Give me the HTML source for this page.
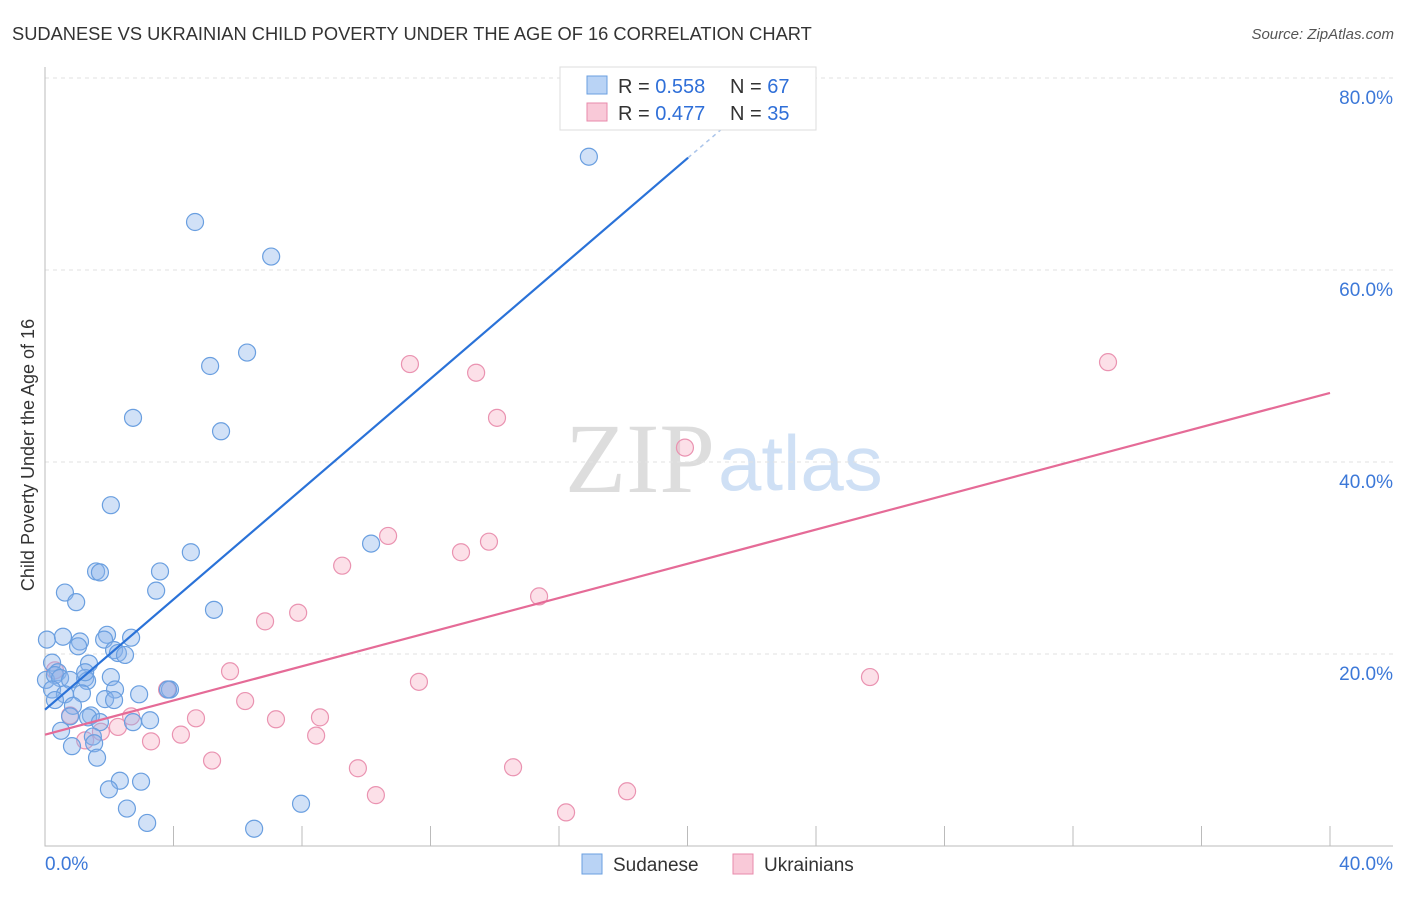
<!DOCTYPE html>
<html><head><meta charset="utf-8"><style>
body{margin:0;background:#fff;font-family:"Liberation Sans",sans-serif}
svg text{font-family:"Liberation Sans",sans-serif}
</style></head><body>
<svg id="c" width="1406" height="892">
<text x="12" y="40" font-size="18.3" fill="#333">SUDANESE VS UKRAINIAN CHILD POVERTY UNDER THE AGE OF 16 CORRELATION CHART</text>
<text x="1394" y="39" font-size="15" fill="#555" text-anchor="end" font-style="italic">Source: ZipAtlas.com</text>
<text x="715" y="492" font-size="100" fill="#ddd" text-anchor="end" style="font-family:'Liberation Serif',serif">ZIP</text>
<text x="718" y="490" font-size="78" fill="#cfe0f5">atlas</text>
<text transform="translate(34,455) rotate(-90)" font-size="18" fill="#333" text-anchor="middle">Child Poverty Under the Age of 16</text>
<g id="grid"></g><g id="marks"></g>
<g>
<rect x="560" y="67" width="256" height="63" fill="#fff" stroke="#ddd"/>
<rect x="587" y="76" width="20" height="18" fill="#b9d3f5" stroke="#6a9fe0"/>
<rect x="587" y="103" width="20" height="18" fill="#f9c9d8" stroke="#e88aab"/>
<text x="618" y="93" font-size="20" fill="#333">R = <tspan fill="#2f6fd8">0.558</tspan></text>
<text x="730" y="93" font-size="20" fill="#333">N = <tspan fill="#2f6fd8">67</tspan></text>
<text x="618" y="120" font-size="20" fill="#333">R = <tspan fill="#2f6fd8">0.477</tspan></text>
<text x="730" y="120" font-size="20" fill="#333">N = <tspan fill="#2f6fd8">35</tspan></text>
</g>
<g>
<rect x="582" y="854" width="20" height="20" fill="#b9d3f5" stroke="#6a9fe0"/>
<text x="613" y="871" font-size="19" fill="#333">Sudanese</text>
<rect x="733" y="854" width="20" height="20" fill="#f9c9d8" stroke="#e88aab"/>
<text x="764" y="871" font-size="19" fill="#333">Ukrainians</text>
</g>
</svg>
<script>
const blueX=[16.93,4.67,7.04,6.29,5.14,2.74,5.48,2.05,10.15,4.54,1.59,1.71,3.58,0.62,3.46,0.97,5.26,0.06,0.56,1.09,1.03,1.93,1.84,2.68,2.15,2.27,2.49,0.22,1.37,0.40,0.03,0.31,0.47,0.78,1.25,1.31,2.05,0.22,0.62,1.15,2.18,2.93,3.89,0.87,1.87,1.43,1.34,1.71,2.74,3.27,0.50,1.49,1.53,0.84,1.62,2.33,2.99,1.99,2.55,3.18,6.51,7.97,3.83,1.25,0.31,0.78,2.15];
const blueY=[71.8,65.0,61.4,51.4,50.0,44.6,43.2,35.5,31.5,30.6,28.6,28.5,28.6,26.4,26.6,25.4,24.6,21.5,21.8,21.3,20.8,22.0,21.5,21.7,20.4,20.1,19.9,19.1,19.0,18.1,17.3,17.8,17.5,17.3,17.5,17.2,17.6,16.3,15.8,15.9,16.3,15.8,16.3,14.6,15.3,13.6,13.4,12.9,12.9,13.1,12.0,11.4,10.7,10.4,9.2,6.8,6.7,5.9,3.9,2.4,1.8,4.4,16.3,18.1,15.2,13.5,15.2];
const pinkX=[33.09,11.36,13.42,14.07,19.92,10.68,13.82,12.95,9.25,15.38,7.88,6.85,5.76,11.64,25.68,3.80,6.23,4.70,7.19,8.56,2.68,2.27,1.74,8.44,4.23,3.30,1.25,5.20,9.74,14.57,10.30,18.12,16.22,0.31,0.78];
const pinkY=[50.4,50.2,49.3,44.6,41.5,32.3,31.7,30.6,29.2,26.0,24.3,23.4,18.2,17.1,17.6,16.3,15.1,13.3,13.2,13.4,13.5,12.4,11.9,11.5,11.6,10.9,11.0,8.9,8.1,8.2,5.3,5.7,3.5,18.3,13.6];
const blueLine=[0,14.2,20.02,71.7,22.3,78.2];
const pinkLine=[0,11.6,40,47.2];
const yTicks=[20,40,60,80];
const xTickVals=[4,8,12,16,20,24,28,32,36,40];
const NS='http://www.w3.org/2000/svg';
const sx=v=>45+v/40*1285, sy=v=>846-v/20*192;
function mk(t,a,p){const e=document.createElementNS(NS,t);for(const k in a)e.setAttribute(k,a[k]);p.appendChild(e);return e;}
const g=document.getElementById('grid'), m=document.getElementById('marks');
yTicks.forEach(t=>{
 const l=mk('line',{x1:45,x2:1393,y1:sy(t),y2:sy(t),stroke:'#e2e2e2','stroke-dasharray':'4,4'},g);
 
 
 const tx=mk('text',{x:1393,y:sy(t)+26,'font-size':19,fill:'#3c78d8','text-anchor':'end'},g);
 tx.textContent=t.toFixed(1)+'%';
 
 
});
const ax=mk('path',{d:'M45,67V846H1393',stroke:'#bbb',fill:'none'},g);


xTickVals.forEach(t=>{const l=mk('line',{x1:sx(t),x2:sx(t),y1:826,y2:846,stroke:'#bbb'},g);
 
 });
[['0.0%',45,'start'],['40.0%',1393,'end']].forEach(([s,x,a])=>{const t=mk('text',{x:x,y:870,'font-size':19,fill:'#3c78d8','text-anchor':a},g);t.textContent=s;
 
 });
pinkX.forEach((x,i)=>{const c=mk('circle',{cx:sx(x),cy:sy(pinkY[i]),r:8.5,fill:'rgba(245,165,190,0.35)',stroke:'#ea93b1','stroke-width':1.2},m);
 
 });
blueX.forEach((x,i)=>{const c=mk('circle',{cx:sx(x),cy:sy(blueY[i]),r:8.5,fill:'rgba(140,180,235,0.4)',stroke:'#6a9fe0','stroke-width':1.2},m);
 
 });
let l=mk('line',{x1:sx(blueLine[0]),y1:sy(blueLine[1]),x2:sx(blueLine[2]),y2:sy(blueLine[3]),stroke:'#2a72d8','stroke-width':2.2},m);


l=mk('line',{x1:sx(blueLine[2]),y1:sy(blueLine[3]),x2:sx(blueLine[4]),y2:sy(blueLine[5]),stroke:'#aac4ea','stroke-width':1.5,'stroke-dasharray':'4,4'},m);


l=mk('line',{x1:sx(pinkLine[0]),y1:sy(pinkLine[1]),x2:sx(pinkLine[2]),y2:sy(pinkLine[3]),stroke:'#e56b97','stroke-width':2.2},m);


</script>
</body></html>
